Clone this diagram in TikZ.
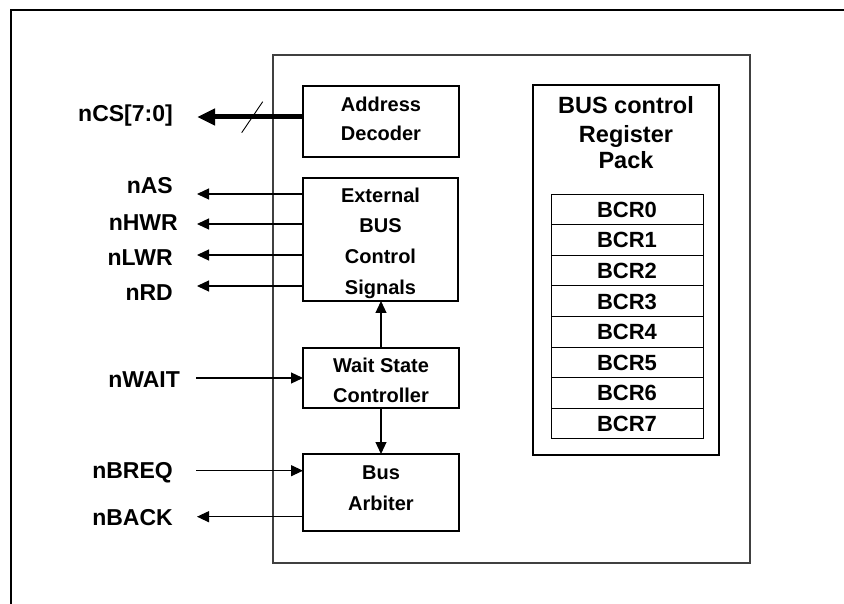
\documentclass[tikz,border=0pt]{standalone}
\usepackage{fontspec}
\setmainfont{Liberation Sans}
\usetikzlibrary{arrows.meta}
\begin{document}
\begin{tikzpicture}[x=1pt,y=-1pt,
  blk/.style={draw, line width=1.8pt, inner sep=0pt, outer sep=0pt, anchor=north west},
  chipbox/.style={draw=black!75, line width=1.4pt, inner sep=0pt, outer sep=0pt, anchor=north west},
  regbox/.style={draw, line width=2.4pt, inner sep=0pt, outer sep=0pt, anchor=north west},
  cell/.style={draw, line width=0.9pt, inner sep=0pt, outer sep=0pt, anchor=north west,
    minimum width=152pt, minimum height=30.6pt, text height=15.8pt, text depth=0pt,
    font=\fontsize{22}{26}\selectfont\bfseries},
  bt/.style={anchor=base, inner sep=0pt, font=\fontsize{20}{24}\selectfont\bfseries},
  tt/.style={anchor=base, inner sep=0pt, font=\fontsize{23.5}{28}\selectfont\bfseries},
  sig/.style={anchor=base east, inner sep=0pt, font=\fontsize{23}{28}\selectfont\bfseries},
  arr/.style={line width=1.2pt, -{Triangle[length=12pt,width=11pt]}},
  busarr/.style={line width=5pt, -{Triangle[length=18pt,width=16pt]}},
  frame/.style={line width=1.3pt}
]
\useasboundingbox (0,0) rectangle (844,604);
% outer frame
\draw[frame] (11,604) -- (11,10) -- (844,10);
% chip
\node[chipbox, minimum width=477pt, minimum height=508pt] (chip) at (273,55) {};
% blocks
\node[blk, minimum width=156pt, minimum height=71pt] (ad) at (303,86) {};
\node[blk, minimum width=155pt, minimum height=123pt] (ext) at (303,178) {};
\node[blk, minimum width=156pt, minimum height=60pt] (ws) at (303,348) {};
\node[blk, minimum width=156pt, minimum height=77pt] (ba) at (303,454) {};
% block texts
\node[bt] (adA) at (381,111.7) {Address};
\node[bt] (adB) at (381,141) {Decoder};
\node[bt] (exA) at (380.5,202.7) {External};
\node[bt] (exB) at (380.5,233) {BUS};
\node[bt] (exC) at (380.5,264) {Control};
\node[bt] (exD) at (380.5,294.5) {Signals};
\node[bt] (wsA) at (381,372) {Wait State};
\node[bt] (wsB) at (381,402.7) {Controller};
\node[bt] (baA) at (381,479) {Bus};
\node[bt] (baB) at (381,510) {Arbiter};
% register pack
\node[regbox, minimum width=186pt, minimum height=370pt] (rp) at (533,85) {};
\node[tt] (rpA) at (626,114) {BUS control};
\node[tt] (rpB) at (626,143) {Register};
\node[tt] (rpC) at (626,169) {Pack};
\node[cell] (r0) at (551,194) {BCR0};
\node[cell] (r1) at (551,224.6) {BCR1};
\node[cell] (r2) at (551,255.2) {BCR2};
\node[cell] (r3) at (551,285.8) {BCR3};
\node[cell] (r4) at (551,316.4) {BCR4};
\node[cell] (r5) at (551,347) {BCR5};
\node[cell] (r6) at (551,377.6) {BCR6};
\node[cell] (r7) at (551,408.2) {BCR7};
% signal labels
\node[sig] (lCS) at (173,122) {nCS[7:0]};
\node[sig] (lAS) at (173,194) {nAS};
\node[sig] (lHWR) at (178,231) {nHWR};
\node[sig] (lLWR) at (173,266) {nLWR};
\node[sig] (lRD) at (173,301) {nRD};
\node[sig] (lWAIT) at (180,387) {nWAIT};
\node[sig] (lBREQ) at (173,478) {nBREQ};
\node[sig] (lBACK) at (173,525) {nBACK};
% free ends of connectors
\coordinate (pCS) at (197,117);
\coordinate (pAS) at (197,194);
\coordinate (pHWR) at (197,224);
\coordinate (pLWR) at (197,255);
\coordinate (pRD) at (197,286);
\coordinate (pWAIT) at (196,378);
\coordinate (pBREQ) at (196,470.7);
\coordinate (pBACK) at (197,516.7);
\coordinate (s1) at (241.7,132.7);
\coordinate (s2) at (262.7,101.7);
% connectors
\draw[busarr] (ad.west |- pCS) -- (pCS);
\draw[line width=0.9pt] (s1) -- (s2);
\draw[arr] (ext.west |- pAS) -- (pAS);
\draw[arr] (ext.west |- pHWR) -- (pHWR);
\draw[arr] (ext.west |- pLWR) -- (pLWR);
\draw[arr] (ext.west |- pRD) -- (pRD);
\draw[arr] (pWAIT) -- (ws.west |- pWAIT);
\draw[arr] (ws.north) -- (ws.north |- ext.south);
\draw[arr] (ws.south) -- (ws.south |- ba.north);
\draw[arr] (pBREQ) -- (ba.west |- pBREQ);
\draw[arr] (ba.west |- pBACK) -- (pBACK);
\end{tikzpicture}
\end{document}
